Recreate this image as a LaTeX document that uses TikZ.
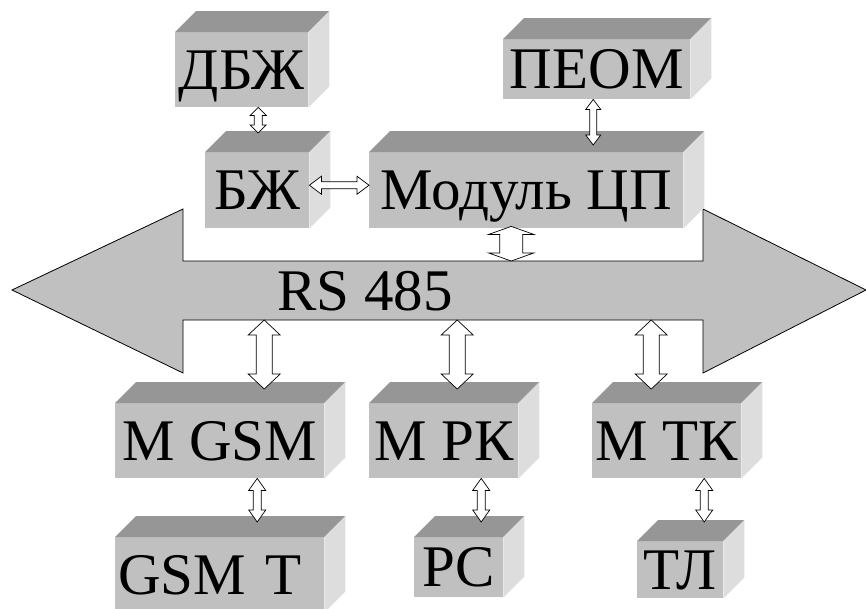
\documentclass[tikz,border=0pt]{standalone}
\usepackage{fontspec}
\setmainfont{Liberation Serif}
\usetikzlibrary{calc}

\definecolor{facefront}{HTML}{C0C0C0}
\definecolor{facetop}{HTML}{969696}
\definecolor{faceside}{HTML}{DDDDDD}
\definecolor{busgray}{HTML}{C0C0C0}

\tikzset{
  cubefront/.style={fill=facefront, inner sep=0pt, text height=39pt, text depth=0pt,
    font=\fontsize{59}{70}\selectfont},
  cubetop/.style={fill=facetop},
  cubeside/.style={fill=faceside},
  busarrow/.style={draw=black, line width=0.8pt, fill=busgray, line join=miter},
  bustext/.style={inner sep=0pt, font=\fontsize{59}{70}\selectfont},
  % hollow double-headed block arrow: shaft half-width, head half-width, head length
  blockarrow/.style n args={3}{draw=black, fill=white, line width=0.7pt, line join=miter,
    to path={
      ($(\tikztostart)!#3!(\tikztotarget)$) coordinate (ba1)
      ($(\tikztotarget)!#3!(\tikztostart)$) coordinate (ba2)
      (\tikztostart) -- ($(ba1)!#2!90:(\tikztotarget)$) -- ($(ba1)!#1!90:(\tikztotarget)$)
      -- ($(ba2)!#1!90:(\tikztotarget)$) -- ($(ba2)!#2!90:(\tikztotarget)$)
      -- (\tikztotarget)
      -- ($(ba2)!#2!-90:(\tikztotarget)$) -- ($(ba2)!#1!-90:(\tikztotarget)$)
      -- ($(ba1)!#1!-90:(\tikztotarget)$) -- ($(ba1)!#2!-90:(\tikztotarget)$) -- cycle}}
}

% box drawn as a cube: [node options] name, left, top, width, height, text
\newcommand\cubebox[7][]{%
  \node[cubefront, minimum width=#5pt, minimum height=#6pt, anchor=north west, #1] (#2) at (#3,#4) {#7};
  \fill[cubetop] (#2.north west) -- ++(21,-21) -- ([shift={(21,-21)}]#2.north east) -- (#2.north east) -- cycle;
  \fill[cubeside] (#2.north east) -- ++(21,-21) -- ([shift={(21,-21)}]#2.south east) -- (#2.south east) -- cycle;
}

\begin{document}
\begin{tikzpicture}[x=1pt, y=-1pt]
\path[use as bounding box, clip] (0,0) rectangle (866,608);

% RS 485 bus
\coordinate (bus-tl) at (183,261);
\coordinate (bus-tr) at (703,261);
\coordinate (bus-bl) at (183,320);
\coordinate (bus-br) at (703,320);
\draw[busarrow] (12,290) -- (183,209) -- (bus-tl) -- (bus-tr) -- (703,209) -- (866,290)
  -- (703,373) -- (bus-br) -- (bus-bl) -- (183,373) -- cycle;
\node[bustext, anchor=base west] (rs485) at (277,310) {RS 485};

% modules
\cubebox{dbzh}{175}{32}{133}{75}{ДБЖ}
\cubebox{peom}{503}{39}{187}{60}{ПЕОМ}
\cubebox{bzh}{205}{152}{104}{76}{БЖ}
\cubebox{cpu}{369}{152}{314}{76}{Модуль ЦП}
\cubebox{mgsm}{115}{403}{209}{75}{М GSM}
\cubebox{mrk}{369}{403}{149}{75}{М РК}
\cubebox{mtk}{592}{403}{149}{75}{М ТК}
\cubebox[text width=203pt, align=left]{gsmt}{115}{537}{209}{75}{GSM Т}
\cubebox{rs}{414}{537}{89}{60}{РС}
\cubebox{tl}{637}{541}{86}{57}{ТЛ}

% connection ports
\coordinate (p-dbzh) at ([xshift=16.5pt]dbzh.south);
\coordinate (p-bzh) at ([xshift=1pt,yshift=19pt]bzh.north);
\coordinate (p-peom) at ([xshift=-3.5pt]peom.south);
\coordinate (p-cpu-top) at ([xshift=67pt,yshift=7pt]cpu.north);
\coordinate (p-bzh-r) at ([yshift=5pt]bzh.east);
\coordinate (p-cpu-l) at ([yshift=5pt]cpu.west);
\coordinate (p-cpu-bus) at ([xshift=-15pt,yshift=2pt]cpu.south);
\coordinate (p-mgsm) at ([xshift=44.5pt,yshift=14pt]mgsm.north);
\coordinate (p-mrk) at ([xshift=13.5pt,yshift=14pt]mrk.north);
\coordinate (p-mtk) at ([xshift=-15.5pt,yshift=14pt]mtk.north);
\coordinate (p-mgsm-b) at ([xshift=37.5pt]mgsm.south);
\coordinate (p-gsmt) at ([xshift=37.5pt,yshift=15pt]gsmt.north);
\coordinate (p-mrk-b) at ([xshift=37.5pt]mrk.south);
\coordinate (p-rs) at ([xshift=22.5pt,yshift=15pt]rs.north);
\coordinate (p-mtk-b) at ([xshift=37.5pt]mtk.south);
\coordinate (p-tl) at ([xshift=24pt,yshift=19pt]tl.north);

% links
\draw[blockarrow={4pt}{8pt}{8pt}] (p-dbzh) to (p-bzh);
\draw[blockarrow={3.5pt}{7.5pt}{10pt}] (p-peom) to (p-cpu-top);
\draw[blockarrow={3.5pt}{9pt}{12pt}] (p-bzh-r) to (p-cpu-l);
\draw[blockarrow={11.5pt}{22.5pt}{8pt}] (p-cpu-bus) to (p-cpu-bus |- bus-tl);
\draw[blockarrow={8pt}{16pt}{15pt}] (p-mgsm |- bus-bl) to (p-mgsm);
\draw[blockarrow={8pt}{16pt}{15pt}] (p-mrk |- bus-bl) to (p-mrk);
\draw[blockarrow={8pt}{16pt}{15pt}] (p-mtk |- bus-bl) to (p-mtk);
\draw[blockarrow={4pt}{8.5pt}{12pt}] (p-mgsm-b) to (p-gsmt);
\draw[blockarrow={4pt}{8.5pt}{12pt}] (p-mrk-b) to (p-rs);
\draw[blockarrow={4pt}{8.5pt}{12pt}] (p-mtk-b) to (p-tl);
\end{tikzpicture}
\end{document}
